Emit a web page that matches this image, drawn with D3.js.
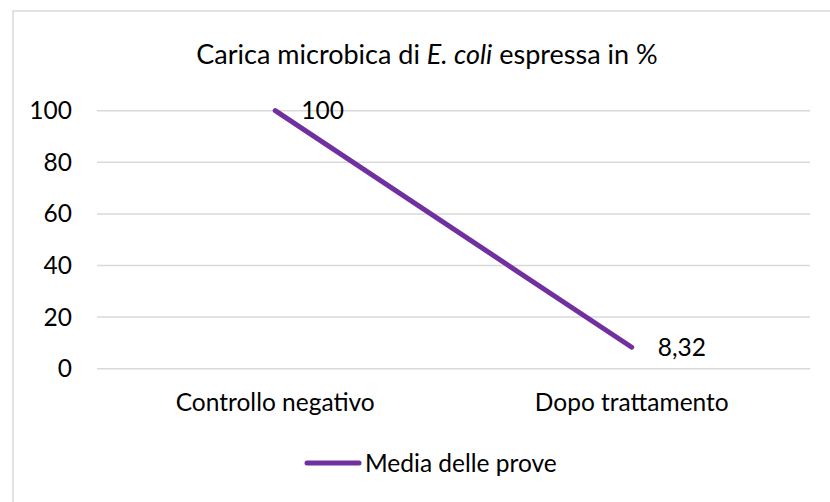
<!DOCTYPE html>
<html>
<head>
    <meta charset="utf-8">
    <title>Carica microbica</title>
    <script src="https://d3js.org/d3.v7.min.js"></script>
    <style>
        body { margin: 0; background: #fff; }
        text { font-family: Lato, "Open Sans", sans-serif; fill: #000; }
    </style>
</head>
<body>
    <script>
        const categories = ["Controllo negativo", "Dopo trattamento"];
        const values = [100, 8.32];
        const valueLabels = ["100", "8,32"];
        const yTicks = [0, 20, 40, 60, 80, 100];
        const seriesName = "Media delle prove";

        const width = 830, height = 502;
        const color = "#7030a0";
        const fontSize = 24.5;
        const titleSize = 27;

        const svg = d3.select('body').append('svg')
            .attr('width', width)
            .attr('height', height);

        // chart frame, cut off at right and bottom
        svg.append('rect')
            .attr('x', 13).attr('y', 11)
            .attr('width', 840).attr('height', 520)
            .attr('fill', '#fff')
            .attr('stroke', '#d9d9d9')
            .attr('stroke-width', 1.5);

        const x = d3.scaleBand()
            .domain(categories)
            .range([97, 810]);

        const y = d3.scaleLinear()
            .domain([0, 100])
            .range([368.7, 110.7]);

        // gridlines
        svg.append('g')
            .selectAll('line')
            .data(yTicks)
            .enter().append('line')
            .attr('x1', 97).attr('x2', 810)
            .attr('y1', d => y(d)).attr('y2', d => y(d))
            .attr('stroke', '#d9d9d9')
            .attr('stroke-width', 1.5);

        // y tick labels
        svg.append('g')
            .selectAll('text')
            .data(yTicks)
            .enter().append('text')
            .attr('x', 72)
            .attr('y', d => y(d))
            .attr('dy', '0.35em')
            .attr('text-anchor', 'end')
            .attr('font-size', fontSize)
            .text(d => d);

        // category labels
        svg.append('g')
            .selectAll('text')
            .data(categories)
            .enter().append('text')
            .attr('x', d => x(d) + x.bandwidth() / 2)
            .attr('y', 411)
            .attr('text-anchor', 'middle')
            .attr('font-size', fontSize)
            .text(d => d);

        const points = categories.map((c, i) => ({ c: c, v: values[i], label: valueLabels[i] }));

        const line = d3.line()
            .x(d => x(d.c) + x.bandwidth() / 2)
            .y(d => y(d.v));

        svg.append('path')
            .datum(points)
            .attr('d', line)
            .attr('fill', 'none')
            .attr('stroke', color)
            .attr('stroke-width', 5)
            .attr('stroke-linecap', 'round');

        // data labels
        svg.append('g')
            .selectAll('text')
            .data(points)
            .enter().append('text')
            .attr('x', d => x(d.c) + x.bandwidth() / 2 + 26)
            .attr('y', d => y(d.v))
            .attr('dy', '0.35em')
            .attr('font-size', fontSize)
            .text(d => d.label);

        // title
        const title = svg.append('text')
            .attr('x', 427)
            .attr('y', 64)
            .attr('text-anchor', 'middle')
            .attr('font-size', titleSize);
        title.append('tspan').text('Carica microbica di ');
        title.append('tspan').attr('font-style', 'italic').text('E. coli');
        title.append('tspan').text(' espressa in %');

        // legend
        svg.append('line')
            .attr('x1', 307).attr('x2', 359)
            .attr('y1', 463).attr('y2', 463)
            .attr('stroke', color)
            .attr('stroke-width', 5)
            .attr('stroke-linecap', 'round');
        svg.append('text')
            .attr('x', 365)
            .attr('y', 463)
            .attr('dy', '0.35em')
            .attr('font-size', fontSize)
            .text(seriesName);
    </script>
</body>
</html>
